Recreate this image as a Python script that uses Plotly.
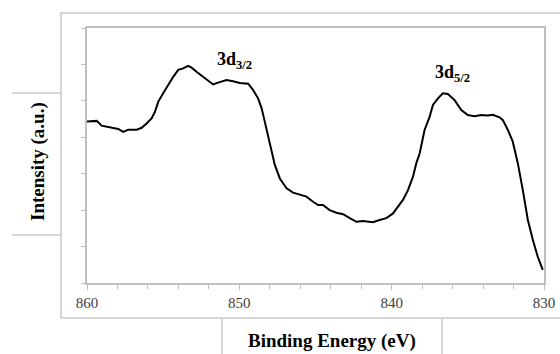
import plotly.graph_objects as go

binding_energy = [860.00, 859.36, 859.04, 858.71, 858.28, 857.95, 857.62, 857.29, 856.74, 856.41,
                  856.09, 855.76, 855.54, 855.32, 855.00, 854.67, 854.34, 854.01, 853.69, 853.36,
                  853.13, 852.81, 852.37, 852.15, 851.72, 851.39, 850.84, 850.41, 849.97, 849.42,
                  849.10, 848.77, 848.54, 848.33, 848.11, 847.89, 847.67, 847.34, 846.90, 846.47,
                  846.03, 845.59, 845.16, 844.83, 844.51, 844.07, 843.63, 843.19, 842.75, 842.31,
                  841.88, 841.55, 841.23, 840.79, 840.35, 839.91, 839.59, 839.26, 838.93, 838.60,
                  838.38, 838.16, 837.84, 837.51, 837.29, 836.96, 836.64, 836.31, 835.87, 835.43,
                  835.00, 834.56, 834.12, 833.69, 833.36, 832.92, 832.70, 832.37, 832.05, 831.72,
                  831.39, 831.06, 830.73, 830.41, 830.08]
intensity = [4.43, 4.45, 4.32, 4.29, 4.26, 4.23, 4.15, 4.21, 4.21, 4.26,
             4.38, 4.52, 4.70, 4.98, 5.21, 5.44, 5.66, 5.85, 5.89, 5.96,
             5.91, 5.80, 5.66, 5.57, 5.45, 5.50, 5.57, 5.54, 5.49, 5.47,
             5.30, 5.07, 4.80, 4.43, 4.06, 3.65, 3.24, 2.87, 2.60, 2.48,
             2.42, 2.37, 2.23, 2.14, 2.14, 2.00, 1.93, 1.89, 1.78, 1.68,
             1.70, 1.68, 1.67, 1.73, 1.78, 1.91, 2.09, 2.28, 2.55, 2.92,
             3.29, 3.56, 4.20, 4.56, 4.89, 5.07, 5.21, 5.19, 5.02, 4.75,
             4.61, 4.58, 4.61, 4.60, 4.62, 4.55, 4.47, 4.20, 3.88, 3.29,
             2.55, 1.73, 1.18, 0.72, 0.36]

x_ticks = [860, 850, 840, 830]
peak_labels = ["3d<sub>3/2</sub>", "3d<sub>5/2</sub>"]
peak_x = [850.3, 836.0]
peak_y = [6.12, 5.76]

SERIF = "Liberation Serif, Times New Roman, serif"
GRID = "#bfbfbf"

fig = go.Figure()
fig.add_trace(go.Scatter(x=binding_energy, y=intensity, mode="lines",
                         line=dict(color="black", width=2), showlegend=False,
                         hoverinfo="skip"))

fig.update_layout(
    width=560, height=354,
    margin=dict(l=87, r=16, t=28, b=71, autoexpand=False),
    paper_bgcolor="white", plot_bgcolor="white",
    font=dict(family=SERIF, color="#404040"),
    xaxis=dict(range=[860, 830], tickvals=x_ticks, ticktext=[str(v) for v in x_ticks],
               ticks="outside", ticklen=5, tickcolor=GRID, tickwidth=1,
               minor=dict(dtick=2, ticks="outside", ticklen=4, tickcolor=GRID, showgrid=False),
               showline=True, linecolor=GRID, linewidth=1.5, mirror=True,
               showgrid=False, zeroline=False, automargin=False,
               tickfont=dict(size=15, family=SERIF, color="#404040")),
    yaxis=dict(range=[0, 7], dtick=1, ticks="outside", ticklen=4, tickcolor=GRID,
               showticklabels=False, showline=True, linecolor=GRID, linewidth=1.5,
               mirror=True, showgrid=False, zeroline=False, automargin=False),
)

for lbl, px, py in zip(peak_labels, peak_x, peak_y):
    fig.add_annotation(x=px, y=py, text="<b>" + lbl + "</b>", showarrow=False,
                       xanchor="center", yanchor="middle",
                       font=dict(family=SERIF, size=18, color="black"))

# axis titles
fig.add_annotation(xref="paper", yref="paper", x=(38 - 87) / 457, y=(283 - 162) / 255,
                   xanchor="center", yanchor="middle",
                   text="<b>Intensity (a.u.)</b>", textangle=-90, showarrow=False,
                   font=dict(family=SERIF, size=19, color="black"))
fig.add_annotation(xref="paper", yref="paper", x=(332 - 87) / 457, y=(283 - 341) / 255,
                   xanchor="center", yanchor="middle",
                   text="<b>Binding Energy (eV)</b>", showarrow=False,
                   font=dict(family=SERIF, size=19, color="black"))

def px2x(p):
    return (p - 87) / 457

def py2y(p):
    return (283 - p) / 255

line_style = dict(color="#c8c8c8", width=1.5)
# outer chart frame
fig.add_shape(type="rect", xref="paper", yref="paper",
              x0=px2x(61), x1=px2x(565), y0=py2y(318), y1=py2y(13), line=line_style)
# title box edges
fig.add_shape(type="line", xref="paper", yref="paper", x0=px2x(12), x1=px2x(61),
              y0=py2y(93), y1=py2y(93), line=line_style)
fig.add_shape(type="line", xref="paper", yref="paper", x0=px2x(12), x1=px2x(61),
              y0=py2y(235), y1=py2y(235), line=line_style)
fig.add_shape(type="line", xref="paper", yref="paper", x0=px2x(222), x1=px2x(222),
              y0=py2y(318), y1=py2y(360), line=line_style)
fig.add_shape(type="line", xref="paper", yref="paper", x0=px2x(442), x1=px2x(442),
              y0=py2y(318), y1=py2y(360), line=line_style)

fig.write_html("out.html")
